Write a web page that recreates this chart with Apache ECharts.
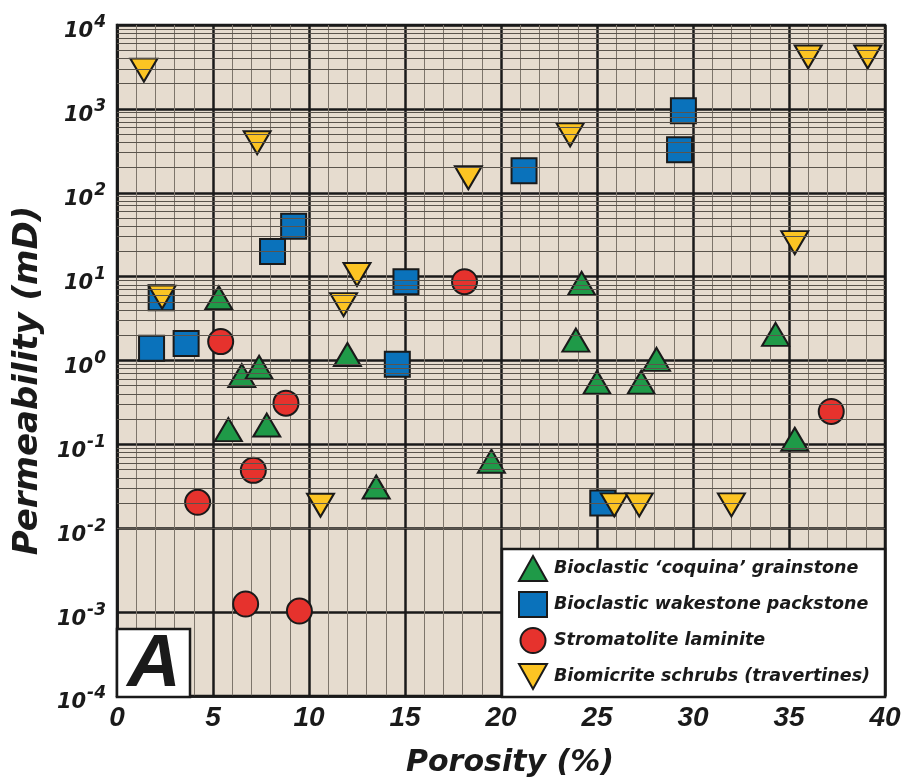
<!DOCTYPE html>
<html><head><meta charset="utf-8">
<script src="https://cdn.jsdelivr.net/npm/echarts@6/dist/echarts.min.js"></script>
<style>html,body{margin:0;padding:0;background:#fff}#c{width:906px;height:783px}</style>
</head><body><div id="c"></div>
<script>
// ---- data (porosity %, permeability mD) ----
const seriesNames = ["Bioclastic \u2018coquina\u2019 grainstone", "Bioclastic wakestone packstone", "Stromatolite laminite", "Biomicrite schrubs (travertines)"];
const grainX = [5.3, 6.5, 7.4, 5.8, 7.8, 12.0, 13.5, 19.5, 24.2, 23.9, 25.0, 27.3, 28.1, 34.3, 35.3];
const grainY = [5.6, 0.66, 0.83, 0.15, 0.17, 1.18, 0.031, 0.063, 8.3, 1.75, 0.55, 0.55, 1.03, 2.05, 0.115];
const wackeX = [2.3, 1.8, 3.6, 9.2, 8.1, 21.2, 29.5, 29.3, 15.05, 14.6, 25.3];
const wackeY = [5.6, 1.4, 1.6, 40, 20, 183, 950, 325, 8.7, 0.9, 0.02];
const stromX = [5.4, 8.8, 7.1, 4.2, 6.7, 9.5, 18.1, 37.2];
const stromY = [1.68, 0.31, 0.049, 0.0204, 0.00125, 0.00103, 8.7, 0.247];
const travX = [1.4, 7.3, 18.3, 23.6, 36.0, 39.1, 35.3, 2.35, 12.5, 11.8, 10.6, 25.9, 27.2, 32.0];
const travY = [2900, 395, 151, 490, 4150, 4150, 25.4, 5.7, 10.6, 4.64, 0.0188, 0.019, 0.019, 0.019];
// ---- ticks ----
const xTicks = [0, 5, 10, 15, 20, 25, 30, 35, 40];
const yExponents = [-4, -3, -2, -1, 0, 1, 2, 3, 4];
const minorMultipliers = [2, 3, 4, 5, 6, 7, 8, 9];

const pairs = (xs, ys) => xs.map((x, i) => [x, ys[i]]);
const minorLines = [];
yExponents.slice(0, -1).forEach(e => minorMultipliers.forEach(m => minorLines.push({ yAxis: m * Math.pow(10, e) })));

const INK = '#1a1a1a';
const bi = { fontWeight: 'bold', fontStyle: 'italic', color: INK };
const markerStyle = (c) => ({ color: c, borderColor: INK, borderWidth: 2, opacity: 1 });
const DOWN_TRI = 'path://M0,0 L28,0 L14,25 Z';

const chart = echarts.init(document.getElementById('c'), null, { renderer: 'canvas' });
chart.setOption({
  animation: false,
  backgroundColor: '#ffffff',
  grid: { left: 117, right: 21, top: 25, bottom: 86, show: true, backgroundColor: '#e6dccf', borderColor: INK, borderWidth: 2.5 },
  xAxis: {
    type: 'value', min: xTicks[0], max: xTicks[xTicks.length - 1], interval: 5,
    axisLine: { show: true, lineStyle: { color: INK, width: 2.5 } },
    axisTick: { show: false },
    axisLabel: Object.assign({ margin: 8, fontFamily: 'Liberation Sans', fontSize: 28 }, bi),
    splitLine: { show: true, lineStyle: { color: INK, width: 2.5 } },
    minorTick: { show: false, splitNumber: 5 },
    minorSplitLine: { show: true, lineStyle: { color: '#7d756b', width: 1 } },
    name: 'Porosity (%)', nameLocation: 'middle', nameGap: 52, nameMoveOverlap: false,
    nameTextStyle: Object.assign({ fontFamily: 'DejaVu Sans', fontSize: 30, padding: [0, 0, 0, 18] }, bi)
  },
  yAxis: {
    type: 'log', logBase: 10, min: Math.pow(10, yExponents[0]), max: Math.pow(10, yExponents[yExponents.length - 1]), interval: 1,
    axisLine: { show: true, lineStyle: { color: INK, width: 2.5 } },
    axisTick: { show: false },
    axisLabel: Object.assign({
      margin: 11, fontFamily: 'DejaVu Sans', fontSize: 21,
      formatter: (v) => '{b|10}{s|' + Math.round(Math.log10(v)) + '}',
      rich: {
        b: Object.assign({ fontFamily: 'DejaVu Sans', fontSize: 21, lineHeight: 21, verticalAlign: 'top', padding: [7, 0, 0, 0] }, bi),
        s: Object.assign({ fontFamily: 'DejaVu Sans', fontSize: 17, lineHeight: 17, verticalAlign: 'top', padding: [0, 0, 0, 1] }, bi)
      }
    }, bi),
    splitLine: { show: true, lineStyle: { color: INK, width: 2.5 } },
    name: 'Permeability (mD)', nameLocation: 'middle', nameGap: 72, nameMoveOverlap: false,
    nameTextStyle: Object.assign({ fontFamily: 'DejaVu Sans', fontSize: 34, padding: [0, 40, 0, 0] }, bi)
  },
  legend: {
    data: [
      { name: seriesNames[0] }, { name: seriesNames[1] }, { name: seriesNames[2] },
      { name: seriesNames[3], icon: DOWN_TRI }
    ],
    orient: 'vertical', left: 518, top: 555, z: 20, padding: 0,
    itemWidth: 28, itemHeight: 25, itemGap: 9,
    textStyle: Object.assign({ fontFamily: 'DejaVu Sans', fontSize: 17.5, padding: [0, 0, 0, 2] }, bi)
  },
  graphic: [
    { type: 'rect', z: 10, shape: { x: 117, y: 629, width: 73, height: 68 }, style: { fill: '#fff', stroke: INK, lineWidth: 2.5 } },
    { type: 'text', z: 11, x: 154, y: 666, style: { text: 'A', font: 'italic bold 74px "Liberation Sans"', fill: INK, align: 'center', verticalAlign: 'middle' } },
    { type: 'rect', z: 10, shape: { x: 502, y: 549, width: 383, height: 148 }, style: { fill: '#fff', stroke: INK, lineWidth: 2.5 } }
  ],
  series: [
    { name: 'minor', type: 'scatter', data: [], z: 1, silent: true,
      markLine: { silent: true, symbol: ['none', 'none'], label: { show: false }, animation: false,
        lineStyle: { color: '#5a544c', width: 1, type: 'solid' }, data: minorLines } },
    { name: seriesNames[0], type: 'scatter', z: 3, symbol: 'triangle', symbolSize: [27, 23], data: pairs(grainX, grainY), itemStyle: markerStyle('#1f9a48') },
    { name: seriesNames[1], type: 'scatter', z: 3, symbol: 'rect', symbolSize: [25, 25], data: pairs(wackeX, wackeY), itemStyle: markerStyle('#0a72bb') },
    { name: seriesNames[2], type: 'scatter', z: 3, symbol: 'circle', symbolSize: 25, data: pairs(stromX, stromY), itemStyle: markerStyle('#e6322d') },
    { name: seriesNames[3], type: 'scatter', z: 3, symbol: 'triangle', symbolRotate: 180, symbolSize: [27, 23], data: pairs(travX, travY), itemStyle: markerStyle('#fcc423') }
  ]
});
</script></body></html>
